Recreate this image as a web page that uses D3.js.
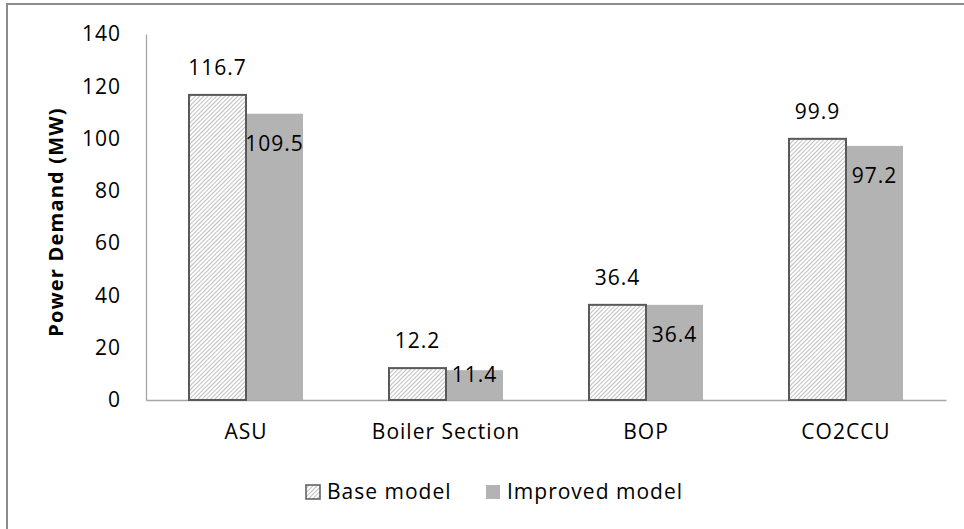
<!DOCTYPE html>
<html>
<head>
<meta charset="utf-8">
<script src="https://cdn.jsdelivr.net/npm/d3@7"></script>
<style>
  html, body { margin: 0; padding: 0; background: #fff; }
  svg { display: block; }
</style>
</head>
<body>
<svg id="chart" width="964" height="529"></svg>
<script>
// Power demand by plant section (MW)
const categories = ["ASU", "Boiler Section", "BOP", "CO2CCU"];
const seriesNames = ["Base model", "Improved model"];
const baseModel = [116.7, 12.2, 36.4, 99.9];
const improvedModel = [109.5, 11.4, 36.4, 97.2];
const yTicks = [0, 20, 40, 60, 80, 100, 120, 140];

const font = "'Open Sans', 'Noto Sans', sans-serif";
const spacing = "1px";
const svg = d3.select("#chart");

// hatched fill for the base model bars
const defs = svg.append("defs");
const pat = defs.append("pattern")
  .attr("id", "hatch")
  .attr("patternUnits", "userSpaceOnUse")
  .attr("width", 3).attr("height", 3)
  .attr("patternTransform", "rotate(45)");
pat.append("rect").attr("width", 3).attr("height", 3).attr("fill", "#fff");
pat.append("line").attr("x1", 0).attr("y1", 0).attr("x2", 0).attr("y2", 3)
  .attr("stroke", "#808080").attr("stroke-width", 1);

// outer frame
svg.append("rect")
  .attr("x", 7).attr("y", 4).attr("width", 970).attr("height", 540)
  .attr("fill", "none").attr("stroke", "#8c8c8c").attr("stroke-width", 2);

const plot = { left: 146, right: 946, top: 34, bottom: 400 };

const x = d3.scaleBand().domain(categories).range([plot.left, plot.right]).paddingInner(0).paddingOuter(0);
const x1 = d3.scaleBand().domain(seriesNames).range([0, 114]);
const y = d3.scaleLinear().domain([0, 140]).range([plot.bottom, plot.top]);

// y axis
const yAxis = d3.axisLeft(y).tickValues(yTicks).tickSize(0).tickPadding(25);
const gy = svg.append("g").attr("transform", `translate(${plot.left},0)`).call(yAxis);
gy.select(".domain").attr("stroke", "#a6a6a6").attr("stroke-width", 1.3);
gy.selectAll("text").attr("font-family", font).attr("font-size", 21)
  .attr("letter-spacing", spacing).attr("fill", "#000");

// x axis
const xAxis = d3.axisBottom(x).tickSize(0).tickPadding(24);
const gx = svg.append("g").attr("transform", `translate(0,${plot.bottom})`).call(xAxis);
gx.select(".domain").attr("stroke", "#a6a6a6").attr("stroke-width", 1.6);
gx.selectAll("text").attr("font-family", font).attr("font-size", 21)
  .attr("letter-spacing", spacing).attr("fill", "#000");

// y axis title
svg.append("text")
  .attr("transform", `translate(63,222) rotate(-90)`)
  .attr("text-anchor", "middle")
  .attr("font-family", font).attr("font-weight", "bold").attr("font-size", 20)
  .attr("letter-spacing", "1.2px")
  .attr("fill", "#000")
  .text("Power Demand (MW)");

const rows = categories.map((c, i) => ({ cat: c, base: baseModel[i], improved: improvedModel[i] }));
const groupOffset = (x.bandwidth() - 114) / 2;

const groups = svg.append("g").selectAll("g").data(rows).join("g")
  .attr("transform", d => `translate(${x(d.cat) + groupOffset},0)`);

// improved model bars (solid gray)
groups.append("rect")
  .attr("x", x1("Improved model"))
  .attr("y", d => y(d.improved))
  .attr("width", x1.bandwidth())
  .attr("height", d => y(0) - y(d.improved))
  .attr("fill", "#b3b3b3");

// base model bars (hatched, outlined)
groups.append("rect")
  .attr("x", x1("Base model"))
  .attr("y", d => y(d.base))
  .attr("width", x1.bandwidth())
  .attr("height", d => y(0) - y(d.base))
  .attr("fill", "url(#hatch)")
  .attr("stroke", "#595959").attr("stroke-width", 2);

// value labels
groups.append("text")
  .attr("x", x1("Base model") + x1.bandwidth() / 2)
  .attr("y", d => y(d.base) - 27)
  .attr("dy", "0.35em")
  .attr("text-anchor", "middle")
  .attr("font-family", font).attr("font-size", 21)
  .attr("letter-spacing", spacing).attr("fill", "#000")
  .text(d => d.base.toFixed(1));

groups.append("text")
  .attr("x", x1("Improved model") + x1.bandwidth() / 2)
  .attr("y", d => Math.min(y(d.improved) + 30, y(0) - 25))
  .attr("dy", "0.35em")
  .attr("text-anchor", "middle")
  .attr("font-family", font).attr("font-size", 21)
  .attr("letter-spacing", spacing).attr("fill", "#000")
  .text(d => d.improved.toFixed(1));

// legend
const legend = svg.append("g").attr("transform", "translate(0,492)");
const legendItems = [
  { name: "Base model", x: 306, fill: "url(#hatch)", stroke: "#595959" },
  { name: "Improved model", x: 486, fill: "#b3b3b3", stroke: "none" }
];
const li = legend.selectAll("g").data(legendItems).join("g")
  .attr("transform", d => `translate(${d.x},0)`);
li.append("rect")
  .attr("x", 0).attr("y", -7).attr("width", 14).attr("height", 14)
  .attr("fill", d => d.fill).attr("stroke", d => d.stroke).attr("stroke-width", 1.5);
li.append("text")
  .attr("x", 21).attr("dy", "0.35em")
  .attr("font-family", font).attr("font-size", 21)
  .attr("letter-spacing", spacing).attr("fill", "#000")
  .text(d => d.name);
</script>
</body>
</html>
